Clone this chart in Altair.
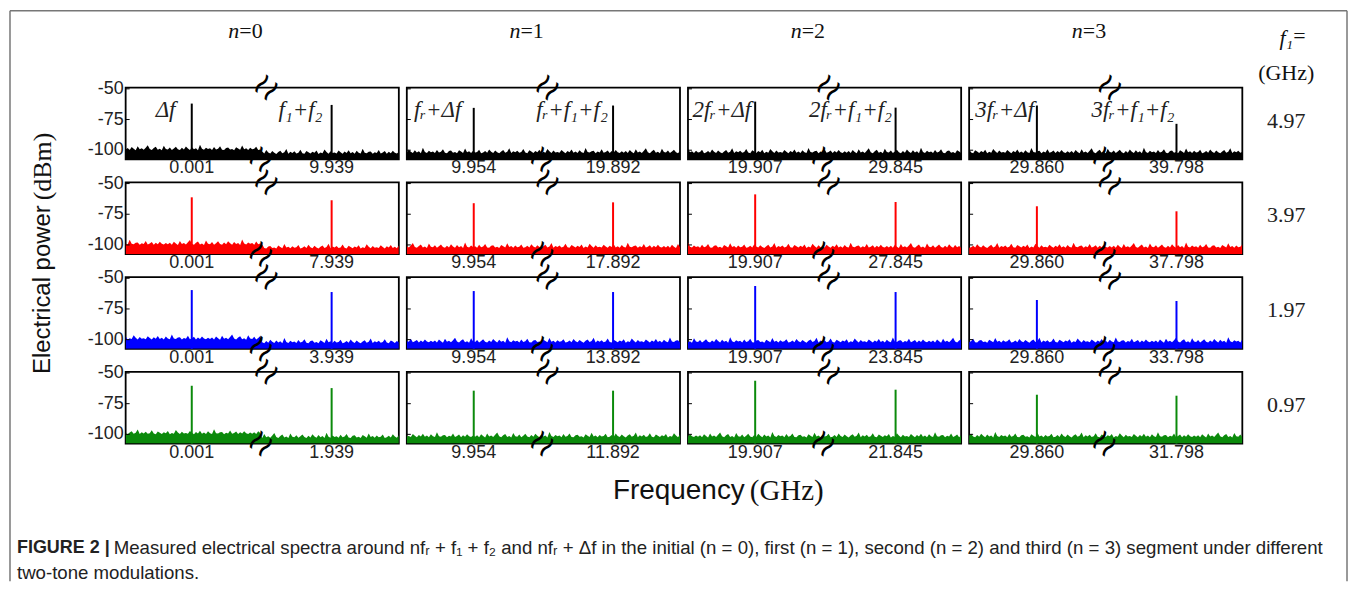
import altair as alt
import pandas as pd

# ---------------- data ----------------
ROW_COLORS = ["#000000", "#ff0000", "#0000ff", "#0b8a0b"]
F1_VALUES = ["4.97", "3.97", "1.97", "0.97"]
SEGMENTS = ["0", "1", "2", "3"]

# peak positions inside each panel (0..1 along the broken frequency axis)
PEAK_X = [[0.242, 0.754], [0.245, 0.755], [0.246, 0.760], [0.248, 0.759]]
# peak levels (dBm): [row][segment][Δf-peak, f1+f2-peak]
PEAK_DBM = [
    [[-62.0, -63.1], [-65.5, -63.6], [-60.4, -65.3], [-63.6, -78.5]],
    [[-61.2, -63.6], [-66.0, -65.3], [-58.8, -65.0], [-68.5, -72.6]],
    [[-59.6, -61.2], [-60.4, -61.2], [-56.3, -61.2], [-67.7, -68.5]],
    [[-60.4, -62.3], [-64.4, -64.4], [-56.3, -63.6], [-67.7, -68.5]],
]
TICK_LABELS = [
    [["0.001", "9.939"], ["9.954", "19.892"], ["19.907", "29.845"], ["29.860", "39.798"]],
    [["0.001", "7.939"], ["9.954", "17.892"], ["19.907", "27.845"], ["29.860", "37.798"]],
    [["0.001", "3.939"], ["9.954", "13.892"], ["19.907", "23.845"], ["29.860", "33.798"]],
    [["0.001", "1.939"], ["9.954", "11.892"], ["19.907", "21.845"], ["29.860", "31.798"]],
]
PEAK_NAMES = [["Δf", "f₁+f₂"], ["fᵣ+Δf", "fᵣ+f₁+f₂"],
              ["2fᵣ+Δf", "2fᵣ+f₁+f₂"], ["3fᵣ+Δf", "3fᵣ+f₁+f₂"]]
NAME_X = [[0.146, 0.64], [0.113, 0.605], [0.124, 0.595], [0.13, 0.60]]
NAME_Y = -67.0

# noise floor level (dBm) left / right of the axis break, per segment
NOISE_FLOOR_LEFT = [-100.0, -102.5, -102.5, -102.5]
NOISE_FLOOR_RIGHT = [-103.0, -102.5, -102.5, -102.5]
# noise fluctuation above the floor (dB), read as a typical trace
NOISE_JITTER = [0.5, 1.8, 0.2, 2.6, 1.1, 0.0, 3.2, 0.7, 1.5, 0.3, 2.1, 4.1, 0.9, 0.1,
                1.7, 2.8, 0.4, 1.2, 0.0, 3.6, 1.0, 0.6, 2.3, 0.2, 1.4, 2.9, 0.8, 0.1,
                1.9, 0.5, 3.0, 1.3, 0.2, 2.4, 0.7, 1.6, 0.0, 4.4, 1.1, 0.3, 2.0, 0.9,
                1.5, 0.2, 2.7, 0.6, 1.2, 3.3, 0.4, 0.1, 1.8, 2.2, 0.5, 1.0, 0.0, 2.5,
                1.4, 0.3, 3.8, 0.8, 1.6, 0.2, 2.0, 0.7, 1.1, 2.9, 0.1, 0.6, 1.9, 0.4,
                3.1, 1.2, 0.3, 2.3, 0.9, 0.0, 1.5, 2.6, 0.5, 1.3, 4.0, 0.2, 1.7, 0.8,
                2.1, 0.4, 1.0, 3.4, 0.6, 0.1, 2.4, 1.4, 0.3, 1.8, 0.9, 2.8, 0.0, 1.2,
                0.5, 3.5, 1.6, 0.2, 2.2, 0.7, 1.1, 0.4, 2.7, 1.3, 0.1, 1.9, 0.8, 3.0,
                0.5, 1.5, 0.2, 2.5, 0.9, 0.3, 4.2, 1.0, 0.6, 1.7, 2.0, 0.1, 1.4, 0.7,
                3.2, 0.4, 1.1, 2.3, 0.2, 1.8, 0.6, 2.6, 0.9, 0.3, 1.6]

Y_TICKS = [-50, -75, -100]
Y_TICK_LABELS = ["-50", "-75", "-100"]
Y_DOMAIN = [-107.5, -49.0]
BREAK_TOP_X = 0.515
BREAK_BOTTOM_X = 0.495

CAPTION_HEAD = "FIGURE 2 |"
CAPTION_1 = ("Measured electrical spectra around nfᵣ + f₁ + f₂ and nfᵣ + Δf in the initial "
             "(n = 0), first (n = 1), second (n = 2) and third (n = 3) segment under different")
CAPTION_2 = "two-tone modulations."

# ---------------- chart ----------------
W, H = 274, 72
SANS = "Liberation Sans"
SERIF = "Liberation Serif"
ONE = pd.DataFrame({"k": [0]})


def txt(text, x, y, **kw):
    return alt.Chart(ONE).mark_text(text=text, **kw).encode(x=alt.value(x), y=alt.value(y))


def panel(r, c):
    n = len(NOISE_JITTER)
    shift = (r * 4 + c) * 29
    xs = [i / (n - 1) for i in range(n)]
    ys = []
    for i, x in enumerate(xs):
        base = NOISE_FLOOR_LEFT[c] if x < 0.5 else NOISE_FLOOR_RIGHT[c]
        ys.append(base + NOISE_JITTER[(i + shift) % n])
    noise = pd.DataFrame({"f": xs, "p": ys})
    xsc = alt.Scale(domain=[0, 1], nice=False, zero=False)
    ysc = alt.Scale(domain=Y_DOMAIN, nice=False, zero=False)
    color = ROW_COLORS[r]

    layers = []
    layers.append(alt.Chart(noise).mark_area(color=color, clip=True, opacity=1).encode(
        x=alt.X("f:Q", scale=xsc, axis=None),
        y=alt.Y("p:Q", scale=ysc, axis=None),
        y2=alt.datum(Y_DOMAIN[0])))

    peaks = pd.DataFrame({"f": PEAK_X[c], "p": PEAK_DBM[r][c]})
    layers.append(alt.Chart(peaks).mark_rule(color=color, strokeWidth=2).encode(
        x=alt.X("f:Q", scale=xsc, axis=None), y=alt.Y("p:Q", scale=ysc, axis=None),
        y2=alt.datum(Y_DOMAIN[0])))

    ticks = pd.DataFrame({"v": Y_TICKS, "t": Y_TICK_LABELS})
    layers.append(alt.Chart(ticks).mark_rule(color="#000", strokeWidth=1).encode(
        y=alt.Y("v:Q", scale=ysc, axis=None), x=alt.value(0), x2=alt.value(4)))
    if c == 0:
        layers.append(alt.Chart(ticks).mark_text(
            font=SANS, fontSize=18, color="#222", align="right", baseline="middle").encode(
            y=alt.Y("v:Q", scale=ysc, axis=None), x=alt.value(-2), text="t:N"))

    lab = pd.DataFrame({"f": PEAK_X[c], "t": TICK_LABELS[r][c]})
    layers.append(alt.Chart(lab).mark_text(font=SANS, fontSize=18, color="#222",
                                           baseline="middle").encode(
        x=alt.X("f:Q", scale=xsc, axis=None), y=alt.value(81), text="t:N"))

    for bx, by in [(BREAK_TOP_X, 0), (BREAK_BOTTOM_X, H)]:
        layers.append(alt.Chart(pd.DataFrame({"f": [bx]})).mark_text(
            text="≀≀", angle=40, fontSize=32, font="DejaVu Sans", color="#000",
            baseline="middle").encode(x=alt.X("f:Q", scale=xsc, axis=None), y=alt.value(by)))

    if r == 0:
        names = pd.DataFrame({"f": NAME_X[c], "p": [NAME_Y, NAME_Y], "t": PEAK_NAMES[c]})
        layers.append(alt.Chart(names).mark_text(font=SERIF, fontSize=23, fontStyle="italic",
                                                 color="#222", baseline="middle").encode(
            x=alt.X("f:Q", scale=xsc, axis=None), y=alt.Y("p:Q", scale=ysc, axis=None),
            text="t:N"))
        layers.append(txt("n", 114, -57, font=SERIF, fontSize=22, fontStyle="italic",
                          align="right", baseline="middle", color="#111"))
        layers.append(txt("=" + SEGMENTS[c], 114, -57, font=SERIF, fontSize=22,
                          align="left", baseline="middle", color="#111"))
        if c == 3:
            layers.append(txt("f₁", 325, -50, font=SERIF, fontSize=22, fontStyle="italic",
                              align="right", baseline="middle", color="#111"))
            layers.append(txt("=", 325, -52, font=SERIF, fontSize=22,
                              align="left", baseline="middle", color="#111"))
            layers.append(txt("(GHz)", 318, -15, font=SERIF, fontSize=22,
                              align="center", baseline="middle", color="#111"))
        if c == 0:
            edge = dict(color="#777", strokeWidth=1.5)
            layers.append(alt.Chart(ONE).mark_rule(**edge).encode(
                x=alt.value(-116), y=alt.value(-77), y2=alt.value(495)))
            layers.append(alt.Chart(ONE).mark_rule(**edge).encode(
                x=alt.value(-116), x2=alt.value(1225), y=alt.value(-77)))
            layers.append(alt.Chart(ONE).mark_rule(**edge).encode(
                x=alt.value(1225), y=alt.value(-77), y2=alt.value(495)))
    if c == 3:
        layers.append(txt(F1_VALUES[r], 318, 33, font=SERIF, fontSize=22,
                          align="center", baseline="middle", color="#222"))
    if r == 1 and c == 0:
        layers.append(txt("Electrical power", -83, 23, font=SANS, fontSize=24, angle=270,
                          align="right", baseline="middle", color="#111"))
        layers.append(txt("(dBm)", -83, 18, font=SERIF, fontSize=26, angle=270,
                          align="left", baseline="middle", color="#111"))
    if r == 3 and c == 2:
        layers.append(txt("Frequency", 57, 120, font=SANS, fontSize=28,
                          align="right", baseline="middle", color="#111"))
        layers.append(txt("(GHz)", 62, 120, font=SERIF, fontSize=29,
                          align="left", baseline="middle", color="#111"))
    if r == 3 and c == 0:
        layers.append(txt(CAPTION_HEAD, -109, 177, font=SANS, fontSize=18, fontWeight="bold",
                          align="left", baseline="middle", color="#222"))
        layers.append(txt(CAPTION_1, -12, 177, font=SANS, fontSize=18.7,
                          align="left", baseline="middle", color="#222"))
        layers.append(txt(CAPTION_2, -109, 202, font=SANS, fontSize=18.7,
                          align="left", baseline="middle", color="#222"))

    return alt.layer(*layers).properties(width=W, height=H)


panels = [panel(r, c) for r in range(4) for c in range(4)]
chart = alt.concat(*panels, columns=4, spacing={"row": 23, "column": 8},
                   bounds="flush").properties(
    padding=0, background="white"
).configure_view(stroke="#000", strokeWidth=1.8)

chart.save("out.html", embed_options={"renderer": "svg", "actions": False})
